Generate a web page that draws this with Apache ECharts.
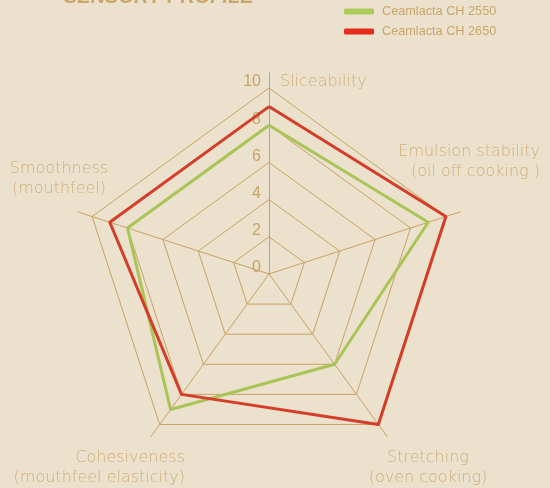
<!DOCTYPE html>
<html><head><meta charset="utf-8">
<script src="https://cdn.jsdelivr.net/npm/echarts@6/dist/echarts.min.js"></script>
<style>html,body{margin:0;padding:0;background:#EBE1CD;}#c{width:550px;height:488px;}</style>
</head><body><div id="c"></div>
<script>
// indicators in ECharts order (counter-clockwise from top)
var categories = ['Sliceability', 'Smoothness\n(mouthfeel)', 'Cohesiveness\n(mouthfeel elasticity)', 'Stretching\n(oven cooking)', 'Emulsion stability\n(oil off cooking )'];
var seriesNames = ['Ceamlacta CH 2550', 'Ceamlacta CH 2650'];
var ch2550 = [8, 8, 9, 6, 9];
var ch2650 = [9, 9, 8, 10, 10];
var tickLabels = [0, 2, 4, 6, 8, 10];
var titleText = 'SENSORY PROFILE';

var cx = 269, cy = 274, R = 186;
var nameColor = '#CFAF7B', gridColor = '#C9A262';
var namePos = [
  {x: 280, y: 82, align: 'left'},
  {x: 59, y: 179, align: 'center'},
  {x: 185, y: 468, align: 'right'},
  {x: 428, y: 468, align: 'center'},
  {x: 540, y: 162, align: 'right'}
];
var graphics = categories.map(function (c, i) {
  return {type: 'text', x: namePos[i].x, y: namePos[i].y, silent: true,
    style: {text: c, fill: nameColor, font: '200 16px "DejaVu Sans"', align: namePos[i].align, verticalAlign: 'middle', lineHeight: 20}};
});

var chart = echarts.init(document.getElementById('c'));
chart.setOption({
  backgroundColor: '#EBE1CD',
  animation: false,
  title: {text: titleText, left: 59, top: -18, textStyle: {color: '#C9A66B', fontSize: 20, fontWeight: 'bold', fontStyle: 'italic', fontFamily: 'Liberation Sans'}},
  legend: {data: seriesNames, orient: 'vertical', left: 339, top: 0, icon: 'roundRect', itemWidth: 30, itemHeight: 6, itemGap: 7,
    textStyle: {color: '#C9A66B', fontSize: 12.7, fontFamily: 'Liberation Sans', padding: [0, 0, 0, 3]}},
  radar: [
    {center: [cx, cy], radius: R, startAngle: 90, shape: 'polygon', splitNumber: 5,
      indicator: categories.map(function (c) { return {name: c, min: 0, max: 10}; }),
      axisName: {show: false},
      axisLine: {show: false}, axisTick: {show: false}, axisLabel: {show: false},
      splitArea: {show: false},
      splitLine: {lineStyle: {color: gridColor, width: 1}}},
    {center: [cx, cy], radius: 201, startAngle: 90, shape: 'polygon', splitNumber: 1,
      indicator: categories.map(function (c) { return {name: '', min: 0, max: 10}; }),
      axisName: {show: false},
      axisLine: {show: true, lineStyle: {color: gridColor, width: 1}}, axisTick: {show: false}, axisLabel: {show: false},
      splitArea: {show: false}, splitLine: {show: false}}
  ],
  polar: {center: [cx, cy], radius: R},
  angleAxis: {startAngle: 90, show: false, min: 0, max: 360},
  radiusAxis: {type: 'value', min: 0, max: 10, interval: 2,
    axisLine: {show: false}, axisTick: {show: false}, splitLine: {show: false},
    axisLabel: {color: '#C7A366', fontSize: 16, fontFamily: 'Liberation Sans', margin: 8, verticalAlign: 'bottom', lineHeight: 12, formatter: function (v) { return tickLabels.indexOf(v) >= 0 ? String(v) : ''; }}},
  graphic: graphics,
  series: [
    {name: seriesNames[0], type: 'radar', radarIndex: 0, symbol: 'none', z: 3,
      itemStyle: {color: '#ADCB5A'}, lineStyle: {color: '#A9C457', width: 3},
      data: [{value: ch2550, name: seriesNames[0]}]},
    {name: seriesNames[1], type: 'radar', radarIndex: 0, symbol: 'none', z: 4,
      itemStyle: {color: '#E52B1B'}, lineStyle: {color: '#D43D27', width: 3},
      data: [{value: ch2650, name: seriesNames[1]}]}
  ]
});
</script></body></html>
